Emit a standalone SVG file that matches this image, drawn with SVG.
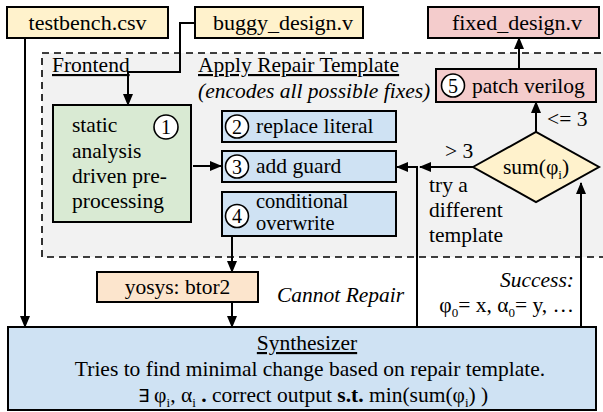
<svg xmlns="http://www.w3.org/2000/svg" width="603" height="412" viewBox="0 0 603 412">
  <defs>
    <marker id="arr" markerUnits="userSpaceOnUse" markerWidth="12" markerHeight="10" refX="11" refY="5" orient="auto">
      <path d="M0,0 L12,5 L0,10 z" fill="#000"/>
    </marker>
    <style>
      text { font-family: "Liberation Serif", "Times New Roman", serif; font-size: 21.5px; fill: #000; }
      .big { font-size: 22px; }
      .tight { font-size: 20.5px; }
      .box { stroke: #000; stroke-width: 2; }
      .yellow { fill: #fff2cc; }
      .pink { fill: #f4cccc; }
      .green { fill: #d9ead3; }
      .blue { fill: #cfe2f3; }
      .peach { fill: #fce5cd; }
      .num { fill: #fff; stroke: #000; stroke-width: 1.6; }
      .numt { font-size: 20px; text-anchor: middle; }
      .edge { fill: none; stroke: #000; stroke-width: 2; }
      .it { font-style: italic; }
      .ul { text-decoration: underline; }
      .mid { text-anchor: middle; }
      .end { text-anchor: end; }
      .sub { font-size: 13px; }
    </style>
  </defs>

  <!-- frontend region -->
  <g id="frontend">
    <rect x="42" y="53" width="570" height="204" fill="#f2f2f2" stroke="#000" stroke-width="1.6" stroke-dasharray="7,5"/>
    <text x="52" y="72" class="ul">Frontend</text>
    <text x="198" y="72" class="ul">Apply Repair Template</text>
    <text x="198" y="98" class="it">(encodes all possible fixes)</text>
  </g>

  <!-- inputs and output files -->
  <g id="testbench">
    <rect x="7" y="7" width="161" height="31" class="box yellow"/>
    <text x="87.5" y="30" class="mid big">testbench.csv</text>
  </g>
  <g id="buggy">
    <rect x="195" y="7" width="168" height="31" class="box yellow"/>
    <text x="283" y="30" class="mid big">buggy_design.v</text>
  </g>
  <g id="fixed">
    <rect x="428" y="7" width="171" height="31" class="box pink"/>
    <text x="517" y="30" class="mid big">fixed_design.v</text>
  </g>

  <!-- step 1 -->
  <g id="preprocess">
    <rect x="53" y="105" width="138" height="117" class="box green"/>
    <circle cx="166" cy="127" r="12" class="num"/>
    <text x="166" y="134" class="numt">1</text>
    <text x="72" y="132">static</text>
    <text x="72" y="158">analysis</text>
    <text x="72" y="183">driven pre-</text>
    <text x="72" y="208">processing</text>
  </g>

  <!-- repair templates -->
  <g id="replace">
    <rect x="222" y="111" width="174" height="31" class="box blue"/>
    <circle cx="237" cy="126.5" r="11.5" class="num"/>
    <text x="237" y="133.5" class="numt">2</text>
    <text x="256" y="133">replace literal</text>
  </g>
  <g id="guard">
    <rect x="222" y="151" width="174" height="31" class="box blue"/>
    <circle cx="237" cy="166.5" r="11.5" class="num"/>
    <text x="237" y="173.5" class="numt">3</text>
    <text x="256" y="173">add guard</text>
  </g>
  <g id="overwrite">
    <rect x="222" y="192" width="174" height="44" class="box blue"/>
    <circle cx="237" cy="216" r="11.5" class="num"/>
    <text x="237" y="223" class="numt">4</text>
    <text x="256" y="208" class="tight">conditional</text>
    <text x="256" y="230" class="tight">overwrite</text>
  </g>

  <!-- step 5 -->
  <g id="patch">
    <rect x="436" y="69" width="160" height="33" class="box pink"/>
    <circle cx="453" cy="85.5" r="11.5" class="num"/>
    <text x="453" y="92.5" class="numt">5</text>
    <text x="472" y="93">patch verilog</text>
  </g>

  <!-- decision -->
  <g id="decision">
    <polygon points="473,167 536,132 599,167 536,202" fill="#fff2cc" stroke="#000" stroke-width="2"/>
    <text x="536" y="174" class="mid">sum(φ<tspan class="sub" dy="5">i</tspan><tspan dy="-5">)</tspan></text>
  </g>

  <!-- btor2 conversion -->
  <g id="yosys">
    <rect x="97" y="272" width="161" height="30" class="box peach"/>
    <text x="177.5" y="294" class="mid">yosys: btor2</text>
  </g>

  <!-- synthesizer -->
  <g id="synth">
    <rect x="8" y="327" width="588" height="83" class="box blue"/>
    <text x="307" y="350" class="mid ul">Synthesizer</text>
    <text x="310" y="376" class="mid">Tries to find minimal change based on repair template.</text>
    <text x="313" y="402" class="mid"><tspan font-size="18">∃</tspan> φ<tspan class="sub" dy="5">i</tspan><tspan dy="-5">, α</tspan><tspan class="sub" dy="5">i</tspan><tspan dy="-5" font-weight="bold"> . </tspan>correct output <tspan font-weight="bold">s.t.</tspan> min(sum(φ<tspan class="sub" dy="5">i</tspan><tspan dy="-5">) )</tspan></text>
  </g>

  <!-- connectors -->
  <g id="connectors">
    <path d="M195,23 H180 V72 H128 V105" class="edge" marker-end="url(#arr)"/>
    <path d="M25,38 V327" class="edge" marker-end="url(#arr)"/>
    <path d="M193,166 H221" class="edge" marker-end="url(#arr)"/>
    <path d="M232,236 V272" class="edge" marker-end="url(#arr)"/>
    <path d="M232,302 V327" class="edge" marker-end="url(#arr)"/>
    <path d="M417,327 V167 H397" class="edge" marker-end="url(#arr)"/>
    <path d="M473,167 H420" class="edge" marker-end="url(#arr)"/>
    <path d="M536,132 V102" class="edge" marker-end="url(#arr)"/>
    <path d="M519,69 V38" class="edge" marker-end="url(#arr)"/>
    <path d="M581,327 V183" class="edge" marker-end="url(#arr)"/>
  </g>

  <!-- connector labels -->
  <g id="labels">
    <text x="445" y="158">&gt; 3</text>
    <text x="547" y="126">&lt;= 3</text>
    <text x="429" y="192">try a</text>
    <text x="429" y="217">different</text>
    <text x="429" y="242">template</text>
    <text x="277" y="302" class="it">Cannot Repair</text>
    <text x="574" y="287" class="it end">Success:</text>
    <text x="574" y="312" class="end">φ<tspan class="sub" dy="5">0</tspan><tspan dy="-5">= x, α</tspan><tspan class="sub" dy="5">0</tspan><tspan dy="-5">= y, …</tspan></text>
  </g>
</svg>
